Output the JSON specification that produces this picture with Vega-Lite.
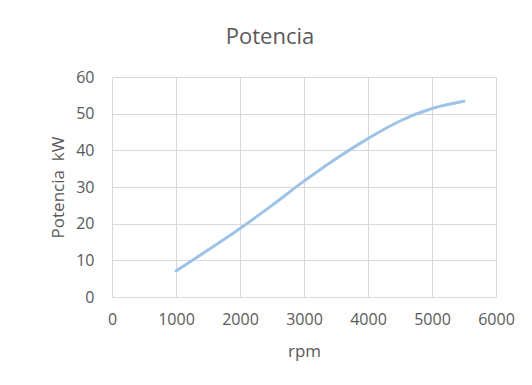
{
  "$schema": "https://vega.github.io/schema/vega-lite/v6.json",
  "width": 384,
  "height": 220,
  "autosize": "none",
  "padding": {"left": 112, "top": 77, "right": 36, "bottom": 88},
  "background": "white",
  "title": {
    "text": "Potencia",
    "font": "Open Sans",
    "fontSize": 22,
    "fontWeight": "normal",
    "color": "#595959",
    "anchor": "middle",
    "baseline": "middle",
    "offset": 10,
    "dx": -34
  },
  "config": {
    "view": {"stroke": null},
    "axis": {
      "labelFont": "Open Sans",
      "labelFontSize": 16,
      "labelColor": "#595959",
      "titleFont": "Open Sans",
      "titleFontSize": 17,
      "titleFontWeight": "normal",
      "titleColor": "#595959",
      "gridColor": "#D9D9D9",
      "gridWidth": 1,
      "domain": false,
      "ticks": false
    }
  },
  "data": {
    "values": [
      {"rpm": 1000, "kW": 7.1},
      {"rpm": 1500, "kW": 12.8},
      {"rpm": 2000, "kW": 18.7},
      {"rpm": 2500, "kW": 25.0},
      {"rpm": 3000, "kW": 31.6},
      {"rpm": 3500, "kW": 37.7},
      {"rpm": 4000, "kW": 43.2},
      {"rpm": 4500, "kW": 48.0},
      {"rpm": 5000, "kW": 51.4},
      {"rpm": 5500, "kW": 53.4}
    ]
  },
  "mark": {"type": "line", "interpolate": "monotone", "color": "#9DC3E6", "strokeWidth": 3, "strokeCap": "round"},
  "encoding": {
    "x": {
      "field": "rpm",
      "type": "quantitative",
      "scale": {"domain": [0, 6000], "nice": false},
      "axis": {"values": [0, 1000, 2000, 3000, 4000, 5000, 6000], "format": "d", "labelPadding": 14, "title": "rpm", "titleY": 54, "titleBaseline": "middle", "labelFlush": false}
    },
    "y": {
      "field": "kW",
      "type": "quantitative",
      "scale": {"domain": [0, 60], "nice": false},
      "axis": {"values": [0, 10, 20, 30, 40, 50, 60], "format": "d", "labelPadding": 18, "title": "Potencia\u00a0\u00a0kW", "titleX": -54, "titleY": 110, "titleAngle": -90, "titleBaseline": "middle", "titleAlign": "center"}
    }
  }
}
